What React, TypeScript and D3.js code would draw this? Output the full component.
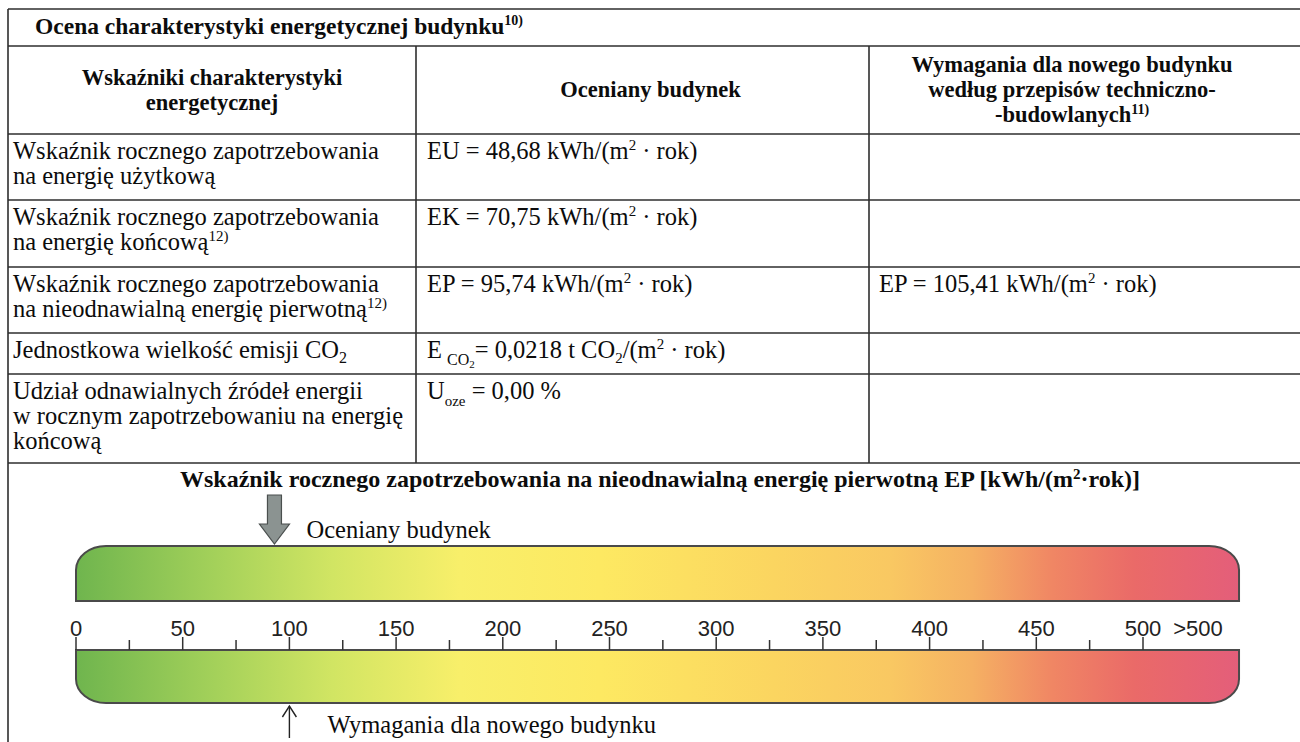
import React from "react";
import * as d3 from "d3";

// ---------- data ----------
const tableTitle = "Ocena charakterystyki energetycznej budynku";
const tableTitleNote = "10)";
const headerCol1 = ["Wskaźniki charakterystyki", "energetycznej"];
const headerCol2 = ["Oceniany budynek"];
const headerCol3 = ["Wymagania dla nowego budynku", "według przepisów techniczno-", "-budowlanych"];
const headerCol3Note = "11)";

const indicatorLines = [
  ["Wskaźnik rocznego zapotrzebowania", "na energię użytkową"],
  ["Wskaźnik rocznego zapotrzebowania", "na energię końcową"],
  ["Wskaźnik rocznego zapotrzebowania", "na nieodnawialną energię pierwotną"],
  ["Jednostkowa wielkość emisji CO"],
  ["Udział odnawialnych źródeł energii", "w rocznym zapotrzebowaniu na energię", "końcową"],
];
const indicatorNotes = ["", "12)", "12)", "", ""];
const indicatorSubNotes = ["", "", "", "2", ""];
const indicatorSymbols = ["EU", "EK", "EP", "E", "U"];
const indicatorSubs = ["", "", "", "CO", "oze"];
const assessedValues = [48.68, 70.75, 95.74, 0.0218, 0.0];
const assessedDigits = [2, 2, 2, 4, 2];
const requiredValues: (number | null)[] = [null, null, 105.41, null, null];

const chartTitle = "Wskaźnik rocznego zapotrzebowania na nieodnawialną energię pierwotną EP [kWh/(m";
const chartTitleEnd = "·rok)]";
const majorTicks = [0, 50, 100, 150, 200, 250, 300, 350, 400, 450, 500];
const minorTicks = [25, 75, 125, 175, 225, 275, 325, 375, 425, 475];
const overflowLabel = ">500";
const barMaxValue = 545;
const assessedMarker = 93;
const requirementMarker = 100;
const assessedLabel = "Oceniany budynek";
const requirementLabel = "Wymagania dla nowego budynku";

// ---------- helpers ----------
const fmt = (v: number, d: number) => v.toFixed(d).replace(".", ",");
const SERIF = "'Liberation Serif', 'Times New Roman', serif";
const SANS = "'Liberation Sans', Arial, sans-serif";
const LINE = "#2e2e2e";

type Seg = { t: string; off?: number; size?: number; dx?: number };

function Rich({ segs, ...rest }: { segs: Seg[]; [k: string]: any }) {
  let cur = 0;
  return (
    <text {...rest}>
      {segs.map((s, i) => {
        const target = s.off ?? 0;
        const dy = target - cur;
        cur = target;
        return (
          <tspan key={i} dy={dy !== 0 ? dy : undefined} dx={s.dx} fontSize={s.size}>
            {s.t}
          </tspan>
        );
      })}
    </text>
  );
}

const sup = (t: string, size = 15, up = 9): Seg => ({ t, off: -up, size });

function valueSegs(r: number, v: number, digits: number): Seg[] {
  if (indicatorSubs[r] === "CO") {
    return [
      { t: "E" },
      { t: "CO", off: 7, size: 16, dx: 5 },
      { t: "2", off: 10, size: 11 },
      { t: `= ${fmt(v, digits)} t CO` },
      { t: "2", off: 5, size: 15 },
      { t: "/(m" },
      sup("2"),
      { t: " · rok)" },
    ];
  }
  if (indicatorSubs[r] === "oze") {
    return [{ t: "U" }, { t: "oze", off: 7, size: 15 }, { t: ` = ${fmt(v, digits)} %` }];
  }
  return [{ t: `${indicatorSymbols[r]} = ${fmt(v, digits)} kWh/(m` }, sup("2"), { t: " · rok)" }];
}

export default function App() {
  const L = 8;
  const R = 1320;
  const TOP = 9;
  const rowLines = [46, 134, 200, 267, 333, 374, 463];
  const c1 = 416;
  const c2 = 869;
  const fsBody = 24.5;
  const fsHead = 22.5;
  const lh = 25;

  const x = d3.scaleLinear().domain([0, 500]).range([76, 1143]);
  const x0 = x(0);
  const x1 = x(barMaxValue);

  const rx = 30, ry = 24;
  const tb = { top: 546, bot: 601 };
  const bb = { top: 650, bot: 703 };
  const topBarPath = `M${x0},${tb.bot} L${x0},${tb.top + ry} A${rx},${ry} 0 0 1 ${x0 + rx},${tb.top} L${x1 - rx},${tb.top} A${rx},${ry} 0 0 1 ${x1},${tb.top + ry} L${x1},${tb.bot} Z`;
  const botBarPath = `M${x0},${bb.top} L${x1},${bb.top} L${x1},${bb.bot - ry} A${rx},${ry} 0 0 1 ${x1 - rx},${bb.bot} L${x0 + rx},${bb.bot} A${rx},${ry} 0 0 1 ${x0},${bb.bot - ry} Z`;

  const stops: [number, string][] = [
    [0, "#6fb54e"],
    [0.12, "#a4d15a"],
    [0.22, "#d1e563"],
    [0.33, "#f8ef6a"],
    [0.45, "#fde962"],
    [0.6, "#fbd560"],
    [0.7, "#f9c862"],
    [0.77, "#f5b163"],
    [0.84, "#f08664"],
    [0.91, "#ea6a68"],
    [1, "#e45e7a"],
  ];

  const rowTops = rowLines.slice(1, 6);
  const hc = (rowLines[0] + rowLines[1]) / 2 + 7;

  const ax = x(assessedMarker);
  const rqx = x(requirementMarker);

  return (
    <svg width={1300} height={742} style={{ position: "absolute", left: 0, top: 0, background: "#fff" }}>
      <defs>
        <linearGradient id="g" gradientUnits="userSpaceOnUse" x1={x0} x2={x1} y1={0} y2={0}>
          {stops.map((s, i) => (
            <stop key={i} offset={s[0]} stopColor={s[1]} />
          ))}
        </linearGradient>
      </defs>
      <rect x={0} y={0} width={1300} height={742} fill="#fff" />

      {/* table lines */}
      <line x1={L} x2={L} y1={TOP} y2={742} stroke={LINE} strokeWidth={1.6} />
      <line x1={L} x2={R} y1={TOP} y2={TOP} stroke={LINE} strokeWidth={1.6} />
      {rowLines.map((y, i) => (
        <line key={i} x1={L} x2={R} y1={y} y2={y} stroke={LINE} strokeWidth={1.6} />
      ))}
      <line x1={c1} x2={c1} y1={rowLines[0]} y2={rowLines[6]} stroke={LINE} strokeWidth={1.6} />
      <line x1={c2} x2={c2} y1={rowLines[0]} y2={rowLines[6]} stroke={LINE} strokeWidth={1.6} />

      <g fontFamily={SERIF} fill="#0c0c0c" fontSize={fsBody}>
        {/* title */}
        <Rich x={35} y={34} fontWeight="bold" fontSize={23.5} segs={[{ t: tableTitle }, sup(tableTitleNote, 14, 9)]} />

        {/* header */}
        {headerCol1.map((t, i) => (
          <text key={i} x={(L + c1) / 2} y={hc + (i - 0.5) * lh} textAnchor="middle" fontWeight="bold" fontSize={fsHead}>{t}</text>
        ))}
        <text x={(c1 + c2) / 2 + 8} y={hc} textAnchor="middle" fontWeight="bold" fontSize={fsHead}>{headerCol2[0]}</text>
        {headerCol3.map((t, i) => (
          <Rich
            key={i}
            x={1072}
            y={hc + (i - 1) * lh}
            textAnchor="middle"
            fontWeight="bold"
            fontSize={fsHead}
            segs={i === 2 ? [{ t }, sup(headerCol3Note, 14, 8)] : [{ t }]}
          />
        ))}

        {/* body */}
        {indicatorLines.map((lines, r) => (
          <g key={r}>
            {lines.map((t, j) => {
              const last = j === lines.length - 1;
              const segs: Seg[] = [{ t }];
              if (last && indicatorNotes[r]) segs.push(sup(indicatorNotes[r], 15, 9));
              if (last && indicatorSubNotes[r]) segs.push({ t: indicatorSubNotes[r], off: 5, size: 16 });
              return <Rich key={j} x={13} y={rowTops[r] + 25 + j * lh} segs={segs} />;
            })}
            <Rich x={427} y={rowTops[r] + 25} segs={valueSegs(r, assessedValues[r], assessedDigits[r])} />
            {requiredValues[r] !== null && (
              <Rich x={879} y={rowTops[r] + 25} segs={valueSegs(r, requiredValues[r] as number, 2)} />
            )}
          </g>
        ))}

        {/* chart title */}
        <Rich
          x={660}
          y={487}
          textAnchor="middle"
          fontWeight="bold"
          fontSize={24}
          segs={[{ t: chartTitle }, sup("2", 15, 8), { t: chartTitleEnd }]}
        />

        <text x={ax + 32} y={538}>{assessedLabel}</text>
        <text x={rqx + 38} y={733}>{requirementLabel}</text>
      </g>

      {/* bars */}
      <path d={topBarPath} fill="url(#g)" stroke="#4a4a4a" strokeWidth={2} />
      <path d={botBarPath} fill="url(#g)" stroke="#4a4a4a" strokeWidth={2} />

      {/* ticks */}
      {majorTicks.map((v) => (
        <line key={"M" + v} x1={x(v)} x2={x(v)} y1={bb.top} y2={bb.top - 13} stroke="#333" strokeWidth={1.5} />
      ))}
      {minorTicks.map((v) => (
        <line key={"m" + v} x1={x(v)} x2={x(v)} y1={bb.top} y2={bb.top - 10} stroke="#333" strokeWidth={1.5} />
      ))}
      <g fontFamily={SANS} fontSize={22} fill="#222" textAnchor="middle">
        {majorTicks.map((v) => (
          <text key={"t" + v} x={x(v)} y={636}>{String(v)}</text>
        ))}
        <text x={1198} y={636}>{overflowLabel}</text>
      </g>

      {/* assessed arrow (block) */}
      <path
        d={`M${ax - 7},495 L${ax + 7},495 L${ax + 7},524 L${ax + 15},524 L${ax},544 L${ax - 15},524 L${ax - 7},524 Z`}
        fill="#8b9391"
        stroke="#4a4f4e"
        strokeWidth={1.2}
      />
      {/* requirement arrow (thin) */}
      <line x1={rqx} x2={rqx} y1={706} y2={738} stroke="#222" strokeWidth={1.4} />
      <path d={`M${rqx - 7},717 L${rqx},706 L${rqx + 7},717`} fill="none" stroke="#222" strokeWidth={1.4} />
    </svg>
  );
}
